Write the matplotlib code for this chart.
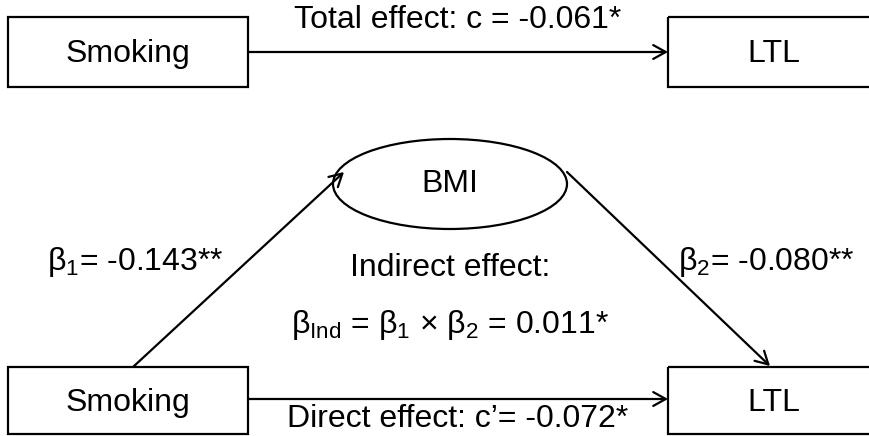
import matplotlib.pyplot as plt
from matplotlib.patches import Rectangle, Ellipse, FancyArrowPatch

plt.rcParams['font.family'] = ['Liberation Sans', 'DejaVu Sans']
plt.rcParams['mathtext.fontset'] = 'custom'
plt.rcParams['mathtext.rm'] = 'Liberation Sans'
plt.rcParams['mathtext.it'] = 'Liberation Sans'
plt.rcParams['mathtext.default'] = 'rm'

# nodes and path coefficients
exposure = 'Smoking'
outcome = 'LTL'
mediator = 'BMI'
total_c = '-0.061*'
direct_c = '-0.072*'
beta1 = '-0.143**'
beta2 = '-0.080**'
beta_ind = '0.011*'

fig = plt.figure(figsize=(8.7, 4.36), dpi=100)
ax = fig.add_axes([0, 0, 1, 1])
ax.set_xlim(0, 870)
ax.set_ylim(436, 0)
ax.axis('off')

fs = 23
lw = 1.6

def box(x0, y0, x1, y1, label):
    ax.add_patch(Rectangle((x0, y0), x1 - x0, y1 - y0, fill=False, ec='black', lw=lw))
    ax.text((x0 + x1) / 2, (y0 + y1) / 2 + 2, label, ha='center', va='center', fontsize=fs)

def arrow(p0, p1):
    ax.add_patch(FancyArrowPatch(p0, p1, arrowstyle='->,head_length=9,head_width=5',
                                 color='black', lw=lw, shrinkA=0, shrinkB=0))

# total effect panel
box(8, 17, 248, 87, exposure)
box(668, 17, 880, 87, outcome)
arrow((248, 52), (668, 52))
ax.text(458, 20, 'Total effect: c = ' + total_c, ha='center', va='center', fontsize=fs)

# mediation panel
box(8, 367, 248, 434, exposure)
box(668, 367, 880, 434, outcome)
arrow((248, 399), (668, 399))
ax.text(458, 419, "Direct effect: c\u2019= " + direct_c, ha='center', va='center', fontsize=fs)

ax.add_patch(Ellipse((450, 184), 234, 90, fill=False, ec='black', lw=lw))
ax.text(450, 184, mediator, ha='center', va='center', fontsize=fs)

arrow((133, 367), (344, 172))
arrow((567, 172), (770, 366))

ax.text(135, 262, '\u03b2$_1$= ' + beta1, ha='center', va='center', fontsize=fs)
ax.text(766, 262, '\u03b2$_2$= ' + beta2, ha='center', va='center', fontsize=fs)
ax.text(450, 268, 'Indirect effect:', ha='center', va='center', fontsize=fs)
ax.text(450, 325, '\u03b2$_{Ind}$ = \u03b2$_1$ \u00d7 \u03b2$_2$ = ' + beta_ind,
        ha='center', va='center', fontsize=fs)

fig.savefig('out.png', dpi=100)
